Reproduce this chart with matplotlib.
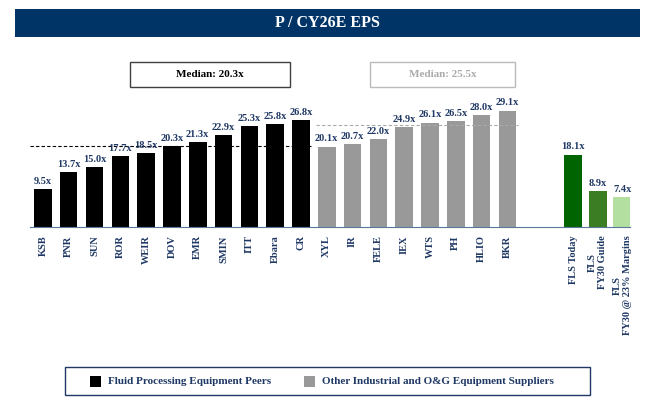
import matplotlib
matplotlib.use("Agg")
import matplotlib.pyplot as plt
from matplotlib.patches import Rectangle

plt.rcParams['font.family'] = ['Liberation Serif', 'DejaVu Serif']
plt.rcParams['font.weight'] = 'bold'

peers1 = ["KSB", "PNR", "SUN", "ROR", "WEIR", "DOV", "EMR", "SMIN", "ITT", "Ebara", "CR"]
vals1 = [9.5, 13.7, 15.0, 17.7, 18.5, 20.3, 21.3, 22.9, 25.3, 25.8, 26.8]
peers2 = ["XYL", "IR", "FELE", "IEX", "WTS", "PH", "HLIO", "BKR"]
vals2 = [20.1, 20.7, 22.0, 24.9, 26.1, 26.5, 28.0, 29.1]
fls_labels = ["FLS Today", "FLS\nFY30 Guide", "FLS\nFY30 @ 23% Margins"]
fls_vals = [18.1, 8.9, 7.4]
fls_colors = ["#006400", "#3a7d22", "#b3e0a0"]
median1, median2 = 20.3, 25.5

W, H = 660, 415
fig = plt.figure(figsize=(W/100, H/100), dpi=100)
navy = "#1f3864"

fig.patches.append(Rectangle((15/W, 1-37/H), 625/W, 28/H, transform=fig.transFigure,
                             facecolor="#003366", edgecolor="none"))
fig.text(327/W, 1-23/H, "P / CY26E EPS", color="white", fontsize=11.5, ha="center", va="center")

ax = fig.add_axes([30/W, 1-227/H, 600/W, 127/H])
x1 = list(range(len(vals1)))
x2 = [len(vals1) + i for i in range(len(vals2))]
x3 = [20.55 + 0.95 * i for i in range(len(fls_vals))]
bw = 0.68
ax.bar(x1, vals1, bw, color="black")
ax.bar(x2, vals2, bw, color="#999999")
ax.bar(x3, fls_vals, bw, color=fls_colors)
for xs, vs in ((x1, vals1), (x2, vals2), (x3, fls_vals)):
    for x, v in zip(xs, vs):
        ax.text(x, v + 0.8, f"{v:.1f}x", ha="center", va="bottom", fontsize=7.5, color=navy)
ax.plot([-0.5, x1[-1] + 0.4], [median1]*2, color="black", lw=0.8, dashes=(3, 2))
ax.plot([x2[0] - 0.4, x2[-1] + 0.4], [median2]*2, color="#aaaaaa", lw=0.8, dashes=(3, 2))
ax.set_xlim(-0.5, 22.75)
ax.set_ylim(0, 31.75)
for s in ["top", "right", "left"]:
    ax.spines[s].set_visible(False)
ax.spines["bottom"].set_color("#5a7898")
ax.set_yticks([])
ax.set_xticks(x1 + x2 + x3)
ax.set_xticklabels(peers1 + peers2 + fls_labels, rotation=90, fontsize=7.5, color=navy,
                   ha="center", va="top", multialignment="center")
ax.tick_params(axis="x", length=0, pad=6)

for (x0, x1b, txt, ec, tc) in ((130, 290, f"Median: {median1}x", "#404040", "black"),
                                (370, 515, f"Median: {median2}x", "#bbbbbb", "#aaaaaa")):
    fig.patches.append(Rectangle((x0/W, 1-87/H), (x1b-x0)/W, 25/H, transform=fig.transFigure,
                                 facecolor="white", edgecolor=ec, lw=1))
    fig.text((x0+x1b)/2/W, 1-74.5/H, txt, ha="center", va="center", fontsize=8, color=tc)

fig.patches.append(Rectangle((65/W, 1-395/H), 525/W, 28/H, transform=fig.transFigure,
                             facecolor="white", edgecolor=navy, lw=1))
fig.patches.append(Rectangle((90/W, 1-387/H), 11/W, 11/H, transform=fig.transFigure, facecolor="black"))
fig.text(108/W, 1-381/H, "Fluid Processing Equipment Peers", va="center", fontsize=8, color=navy)
fig.patches.append(Rectangle((304/W, 1-387/H), 11/W, 11/H, transform=fig.transFigure, facecolor="#999999"))
fig.text(322/W, 1-381/H, "Other Industrial and O&G Equipment Suppliers", va="center", fontsize=8, color=navy)

fig.savefig("out.png", dpi=100)
